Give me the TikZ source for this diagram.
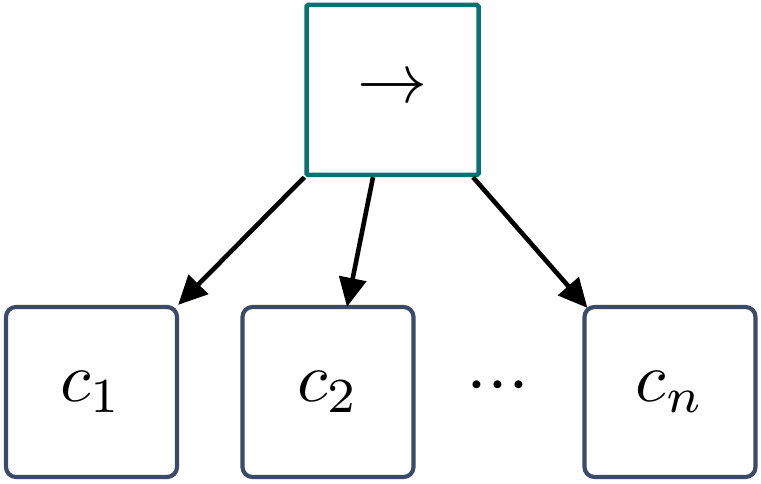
\documentclass[tikz,border=0pt]{standalone}
\usepackage{graphicx}
\usetikzlibrary{arrows.meta,calc}
\definecolor{tealbox}{RGB}{8,114,114}
\definecolor{slatebox}{RGB}{60,74,106}
\newcommand{\bigmath}[1]{\scalebox{7}{$#1$}}
\begin{document}
\begin{tikzpicture}[x=1pt,y=-1pt,
  topbox/.style={draw=tealbox,line width=4.5pt,rounded corners=1.5pt,minimum width=172pt,minimum height=170pt,inner sep=0pt},
  childbox/.style={draw=slatebox,line width=4.2pt,rounded corners=10pt,minimum width=171pt,minimum height=170pt,inner sep=0pt},
  dotsnode/.style={inner sep=0pt},
  conn/.style={line width=4.6pt,-{Triangle[length=29pt,width=27pt]}}]
\useasboundingbox (0,0) rectangle (761,484);
\node[topbox] (top) at (392.5,90) {\bigmath{\rightarrow}};
\node[childbox] (c1) at (91.5,392) {\bigmath{c_1}};
\node[childbox] (c2) at (328,392) {\bigmath{c_2}};
\node[dotsnode] (dots) at (498,387) {\scalebox{7.5}{${\cdot}{\cdot}{\cdot}$}};
\node[childbox] (cn) at (670,392) {\bigmath{c_n}};
\draw[conn] (top.south west) -- ([xshift=-1pt]c1.north east);
\draw[conn] ([xshift=-19.5pt]top.south) -- ([xshift=19pt,yshift=-2pt]c2.north);
\draw[conn] ([xshift=80.5pt]top.south) -- ([xshift=5pt,yshift=-3pt]cn.north west);
\end{tikzpicture}
\end{document}
